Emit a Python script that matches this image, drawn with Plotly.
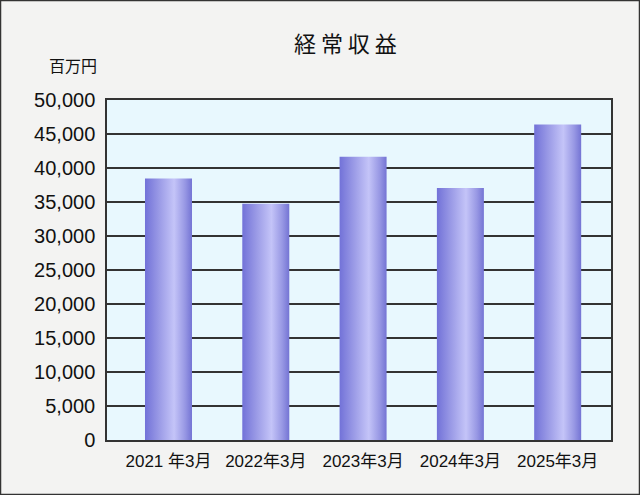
import plotly.graph_objects as go

categories = ["2021 年3月", "2022年3月", "2023年3月", "2024年3月", "2025年3月"]
values = [38440, 34760, 41640, 37070, 46390]
y_ticks = [0, 5000, 10000, 15000, 20000, 25000, 30000, 35000, 40000, 45000, 50000]
y_tick_labels = ["0", "5,000", "10,000", "15,000", "20,000", "25,000", "30,000",
                 "35,000", "40,000", "45,000", "50,000"]

half_w = 0.2415
grad = [[0.0, "#7272d8"], [0.3, "#9a9ae6"], [0.62, "#c4c4f8"], [0.85, "#9898e4"], [1.0, "#7474d4"]]

fig = go.Figure()
for i, (c, v) in enumerate(zip(categories, values)):
    fig.add_trace(go.Scatter(
        x=[i - half_w, i - half_w, i + half_w, i + half_w, i - half_w],
        y=[0, v, v, 0, 0],
        mode="lines", line=dict(width=0, color="rgba(0,0,0,0)"),
        fill="toself",
        fillgradient=dict(type="horizontal", colorscale=grad),
        name=c, hoverinfo="skip", showlegend=False,
    ))

fig.update_layout(
    width=640, height=495,
    margin=dict(l=107, r=29, t=100, b=55),
    paper_bgcolor="#f3f3f2",
    plot_bgcolor="#e8f8fe",
    font=dict(family="Liberation Sans, Arial", color="#111"),
    xaxis=dict(range=[-0.632, 4.548], tickvals=list(range(len(categories))), ticktext=categories,
               showgrid=False, zeroline=False, showline=True, mirror=True, linecolor="#333",
               linewidth=1.5, ticks="", ticklabelstandoff=5,
               tickfont=dict(size=17, family="Liberation Sans, Noto Sans CJK JP")),
    yaxis=dict(range=[0, 50000], tickvals=y_ticks, ticktext=y_tick_labels,
               showgrid=True, gridcolor="#333", gridwidth=1.5, zeroline=False,
               showline=True, mirror=True, linecolor="#333", linewidth=1.5,
               ticks="", ticklen=0, ticklabelstandoff=6, tickfont=dict(size=20), automargin=False),
    annotations=[
        dict(text="経 常 収 益", xref="paper", yref="paper", x=(345 - 107) / 504, y=1 + (100 - 42) / 340,
             xanchor="center", yanchor="middle", showarrow=False,
             font=dict(size=22, family="Noto Sans CJK JP")),
        dict(text="百万円", xref="paper", yref="paper", x=(73 - 107) / 504, y=1 + (100 - 65) / 340,
             xanchor="center", yanchor="middle", showarrow=False,
             font=dict(size=16, family="Noto Sans CJK JP")),
    ],
    shapes=[dict(type="rect", xref="paper", yref="paper",
                 x0=(0.5 - 107) / 504, x1=(639.5 - 107) / 504,
                 y0=-(494.5 - 440) / 340, y1=1 + (100 - 0.5) / 340,
                 line=dict(color="#333", width=1.5), layer="below")],
)

fig.write_html("out.html", config={"displayModeBar": False},
               post_script="document.body.style.margin='0';document.body.style.padding='0';")
